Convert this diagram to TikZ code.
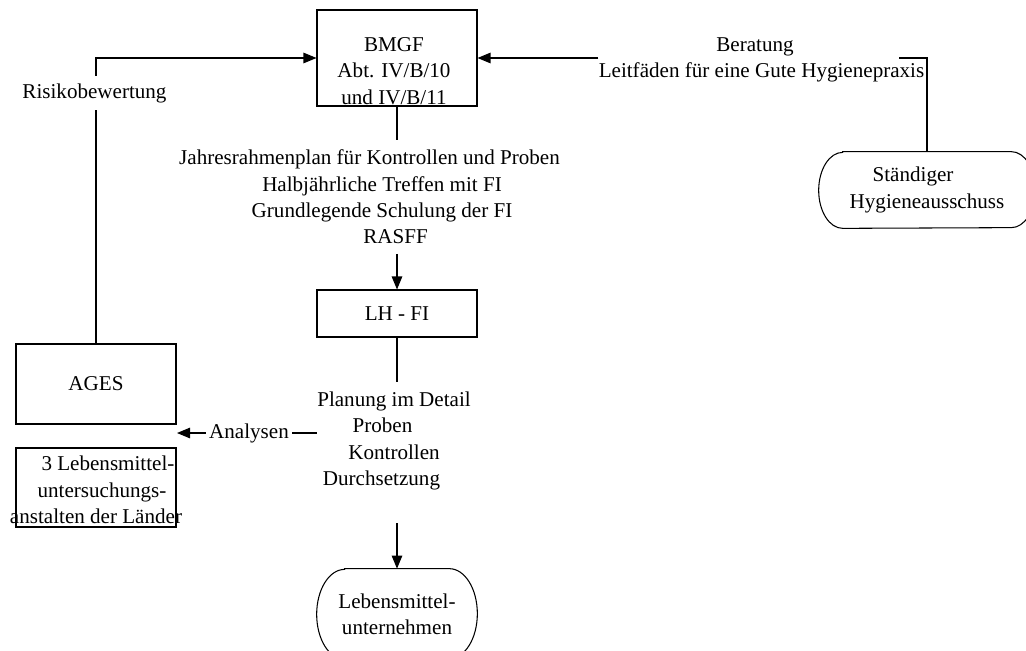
\documentclass[tikz,border=0pt]{standalone}
\usepackage{fontspec}
\setmainfont{Liberation Serif}
\usetikzlibrary{arrows.meta}

\tikzset{
  orgbox/.style={draw, line width=0.6pt, minimum width=3.2cm, inner sep=0pt, align=center},
  endbox/.style={inner sep=0pt, align=center},
  flowtext/.style={align=center, inner xsep=0pt, inner ysep=0.19cm},
  flowline/.style={line width=0.6pt},
  flowarrow/.style={line width=0.6pt, -{Triangle[length=0.26cm, width=0.21cm]}}
}

\begin{document}
\begin{tikzpicture}[x=0.02cm, y=0.02cm, font=\fontsize{12}{15}\selectfont]

\def\width{1026}
\def\height{650}

\path [use as bounding box] (0,0) rectangle (\width,\height);

% BOXES
\node [orgbox, minimum height=1.92cm, label={[flowtext, inner sep=0pt, xshift=-0.06cm, yshift=-0.26cm]center:BMGF\\Abt. IV/B/10\\und IV/B/11}] (bmgf) at (397,592) {};
\node [orgbox, minimum height=0.94cm] (lhfi) at (397,336.5) {LH - FI};
\node [orgbox, minimum height=1.6cm] (ages) at (96,266) {AGES};
\node [orgbox, minimum height=1.58cm, label={[flowtext, inner sep=0pt, yshift=-0.05cm]center:\kern0.48cm 3 Lebensmittel-\\\kern0.24cm untersuchungs-\\anstalten der Länder}] (labs) at (96,162.5) {};
\node [endbox, minimum width=4.32cm, minimum height=1.52cm] (hygiene) at (927,460) {Ständiger\kern0.56cm\\Hygieneausschuss};
\node [endbox, minimum width=3.2cm, minimum height=1.8cm] (lebens) at (397,36) {Lebensmittel-\\unternehmen};

% ROUNDED ENDS
\draw [flowline] ([xshift=0.48cm]hygiene.north west) -- ([xshift=-0.48cm]hygiene.north east)
  arc [start angle=90, end angle=-90, x radius=0.48cm, y radius=0.76cm] -- ([xshift=0.48cm]hygiene.south west)
  arc [start angle=270, end angle=90, x radius=0.48cm, y radius=0.76cm] -- cycle;
\draw [flowline] ([xshift=0.56cm]lebens.north west) -- ([xshift=-0.56cm]lebens.north east)
  arc [start angle=90, end angle=-90, x radius=0.56cm, y radius=0.9cm] -- ([xshift=0.56cm]lebens.south west)
  arc [start angle=270, end angle=90, x radius=0.56cm, y radius=0.9cm] -- cycle;

% TEXTS
\node [flowtext, inner ysep=0.15cm] (risiko) at (94.5,557) {Risikobewertung};
\node [flowtext, inner ysep=0pt] (beratung) at (761.5,590) {Beratung\kern0.26cm\\Leitfäden für eine Gute Hygienepraxis};
\node [flowtext, anchor=north] (jahresplan) at (382,510) {Jahresrahmenplan für Kontrollen und Proben\kern0.5cm\\Halbjährliche Treffen mit FI\\Grundlegende Schulung der FI\\\kern0.54cm RASFF};
\node [flowtext, anchor=north] (planung) at (394,268) {Planung im Detail\\Proben\kern0.46cm\\Kontrollen\\Durchsetzung\kern0.5cm};
\node [flowtext, inner xsep=0.06cm, inner ysep=0pt] (analysen) at (249,217) {Analysen};

% LINKS
\coordinate (beratung-r) at (899,592);
\coordinate (planung-out) at (397,127);
\coordinate (analysen-tip) at (177,217);

\draw [flowline] (ages.north) -- (ages.north |- risiko.south);
\draw [flowarrow] (ages.north |- risiko.north) |- (bmgf.west);
\draw [flowarrow] (bmgf.east -| beratung.west) -- (bmgf.east);
\draw [flowline] (hygiene.north) |- (beratung-r);
\draw [flowline] (bmgf.south) -- (bmgf.south |- jahresplan.north);
\draw [flowarrow] (jahresplan.south -| lhfi.north) -- (lhfi.north);
\draw [flowline] (lhfi.south) -- (lhfi.south |- planung.north);
\draw [flowarrow] (planung-out) -- (lebens.north);
\draw [flowline] (planung.west |- analysen.east) -- (analysen.east);
\draw [flowarrow] (analysen.west) -- (analysen-tip);

\end{tikzpicture}
\end{document}
